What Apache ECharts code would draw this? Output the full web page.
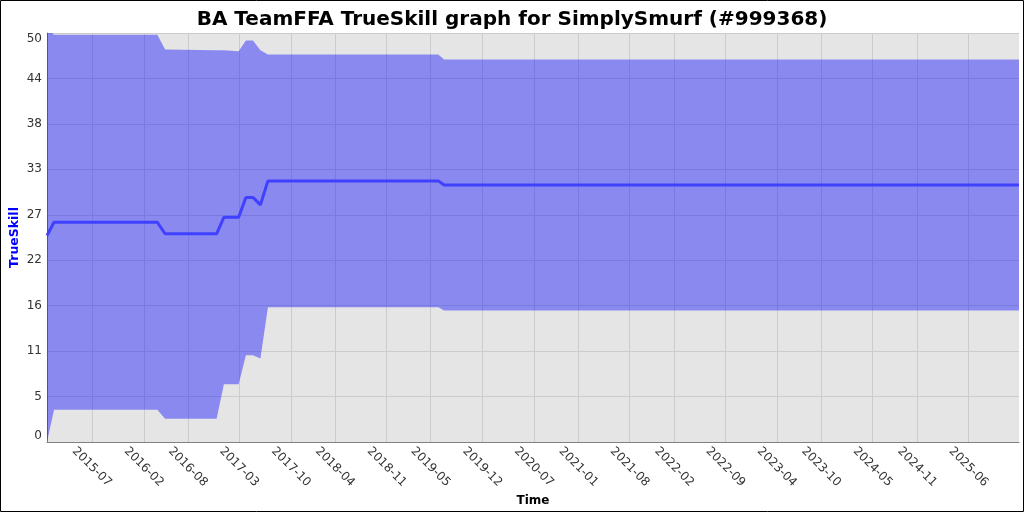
<!DOCTYPE html>
<html>
<head>
<meta charset="utf-8">
<script src="https://cdn.jsdelivr.net/npm/echarts@6/dist/echarts.min.js"></script>
<style>
html,body{margin:0;padding:0;background:#fff;}
#chart{width:1024px;height:512px;}
</style>
</head>
<body>
<div id="chart"></div>
<script>
// ---- data ----
const dates = ['2014-12-28','2015-01-26','2016-03-28','2016-04-29','2016-11-28','2016-12-28','2017-02-27','2017-03-29','2017-04-27','2017-05-28','2017-06-28','2019-06-02','2019-06-26','2025-12-27'];
const mu    = [25.0, 26.6, 26.6, 25.2, 25.2, 27.2, 27.2, 29.6, 29.6, 28.7, 31.6, 31.6, 31.1, 31.1];
const upper = [50.0, 49.3, 49.3, 47.5, 47.4, 47.4, 47.3, 48.6, 48.6, 47.4, 46.9, 46.9, 46.3, 46.3];
const lower = [0.0, 3.9, 3.9, 2.8, 2.8, 7.0, 7.0, 10.5, 10.5, 10.1, 16.3, 16.3, 15.9, 15.9];
const xTickLabels = ['2015-07','2016-02','2016-08','2017-03','2017-10','2018-04','2018-11','2019-05','2019-12','2020-07','2021-01','2021-08','2022-02','2022-09','2023-04','2023-10','2024-05','2024-11','2025-06'];
const yTickLabels = ['0','5','11','16','22','27','33','38','44','50'];
const xMin = '2014-12-28';
const xMax = '2025-12-27';

// ---- helpers ----
function ts(s){ const p = s.split('-').map(Number); return Date.UTC(p[0], p[1]-1, p[2] || 1); }
const xTickValues = xTickLabels.map(ts);
const xs = dates.map(ts);
const muData = xs.map((x,i)=>[x, mu[i]]);
const FONT = 'DejaVu Sans';

function renderBand(params, api){
  const pts = [];
  for (let i = 0; i < xs.length; i++) pts.push(api.coord([xs[i], upper[i]]));
  for (let i = xs.length - 1; i >= 0; i--) pts.push(api.coord([xs[i], lower[i]]));
  const cs = params.coordSys;
  return {
    type:'polygon',
    shape:{points:pts},
    style:{fill:'rgba(0,0,255,0.4)', stroke:null},
    clipPath:{type:'rect', shape:{x:cs.x, y:cs.y, width:cs.width, height:cs.height}},
    silent:true
  };
}

const chart = echarts.init(document.getElementById('chart'), null, {renderer:'canvas'});
chart.setOption({
  backgroundColor:'#ffffff',
  animation:false,
  title:{
    text:'BA TeamFFA TrueSkill graph for SimplySmurf (#999368)',
    left:'center', top:5,
    textStyle:{fontFamily:FONT, fontSize:20, fontWeight:'bold', color:'#000'}
  },
  graphic:[{type:'rect', silent:true, z:100, shape:{x:0.5,y:0.5,width:1023,height:511}, style:{fill:'none', stroke:'#000', lineWidth:1}}],
  grid:{left:47, right:5, top:33, bottom:70, show:true, backgroundColor:'#e5e5e5', borderWidth:0, containLabel:false, outerBoundsMode:'none'},
  xAxis:{
    type:'value', min:ts(xMin), max:ts(xMax),
    name:'Time', nameLocation:'middle', nameGap:53, nameMoveOverlap:false,
    nameTextStyle:{fontFamily:FONT, fontSize:12, fontWeight:'bold', color:'#000'},
    axisLine:{show:true, onZero:false, lineStyle:{color:'#808080', width:1}},
    axisTick:{show:false, customValues:xTickValues},
    splitLine:{show:true, lineStyle:{color:'#cccccc', width:1}},
    axisLabel:{
      customValues:xTickValues,
      rotate:-45, align:'center', verticalAlign:'middle', margin:25,
      fontFamily:FONT, fontSize:12, color:'#333',
      formatter:function(v){ const i = xTickValues.indexOf(v); return i>=0 ? xTickLabels[i] : ''; }
    }
  },
  yAxis:{
    type:'value', min:0, max:49.5, interval:5.5,
    name:'TrueSkill', nameLocation:'middle', nameGap:26, nameRotate:90, nameMoveOverlap:false,
    nameTextStyle:{fontFamily:FONT, fontSize:12.5, fontWeight:'bold', color:'#0000ff'},
    axisLine:{show:true, lineStyle:{color:'#808080', width:1}},
    axisTick:{show:false},
    splitLine:{show:true, lineStyle:{color:'#cccccc', width:1}},
    axisLabel:{
      margin:5, fontFamily:FONT, fontSize:12, color:'#333',
      verticalAlignMinLabel:'bottom', verticalAlignMaxLabel:'top',
      formatter:function(v){ return yTickLabels[Math.round(v/5.5)]; }
    }
  },
  series:[
    {name:'band', type:'custom', renderItem:renderBand, data:[[xs[0], upper[0]]], silent:true, z:2},
    {name:'mu', type:'line', data:muData, symbol:'none', lineStyle:{color:'#4040ff', width:3}, silent:true, z:3}
  ]
});
</script>
</body>
</html>
